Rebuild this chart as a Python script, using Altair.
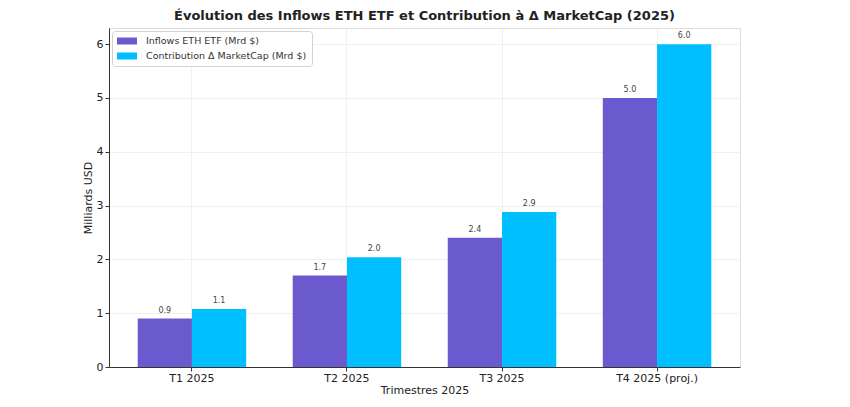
import altair as alt
import pandas as pd

quarters = ["T1 2025", "T2 2025", "T3 2025", "T4 2025 (proj.)"]
series_names = ["Inflows ETH ETF (Mrd $)", "Contribution Δ MarketCap (Mrd $)"]
inflows = [0.9, 1.7, 2.4, 5.0]
contribution = [1.08, 2.04, 2.88, 6.0]
colors = ["#6A5ACD", "#00BFFF"]

rows = []
for q, a, b in zip(quarters, inflows, contribution):
    rows.append({"quarter": q, "series": series_names[0], "value": a})
    rows.append({"quarter": q, "series": series_names[1], "value": b})
df = pd.DataFrame(rows)

FONT = "DejaVu Sans"

x_enc = alt.X(
    "quarter:N",
    sort=quarters,
    title="Trimestres 2025",
    scale=alt.Scale(paddingInner=0.3, paddingOuter=0.185),
    axis=alt.Axis(
        labelAngle=0, bandPosition=0.5, labelFontSize=11, titleFontSize=11,
        titleFontWeight="normal",
        labelColor="#222", titleColor="#222", domainColor="#333", tickColor="#333",
        grid=True, gridColor="#ececec", gridWidth=0.8, labelPadding=1, titlePadding=1,
        tickSize=4,
    ),
)
y_enc = alt.Y(
    "value:Q",
    title="Milliards USD",
    scale=alt.Scale(domain=[0, 6.3], nice=False),
    axis=alt.Axis(
        values=[0, 1, 2, 3, 4, 5, 6], format="d", labelFontSize=11, titleFontSize=11,
        titleFontWeight="normal",
        labelColor="#222", titleColor="#222", domainColor="#333", tickColor="#333",
        gridColor="#ececec", gridWidth=0.8, titlePadding=3, tickSize=4,
    ),
)
xo = alt.XOffset("series:N", sort=series_names, scale=alt.Scale(paddingInner=0, paddingOuter=0))

bars = alt.Chart(df).mark_bar().encode(
    x=x_enc,
    y=y_enc,
    xOffset=xo,
    color=alt.Color(
        "series:N",
        sort=series_names,
        scale=alt.Scale(domain=series_names, range=colors),
        legend=alt.Legend(
            title=None, orient="top-left", offset=3, fillColor="white",
            strokeColor="#d0d0d0", padding=5, cornerRadius=3,
            labelFontSize=9.5, labelColor="#333", labelFont=FONT, labelLimit=300,
            symbolType="M-2,-0.7L2,-0.7L2,0.7L-2,0.7Z", symbolSize=100,
            symbolOffset=5, labelOffset=14,
            symbolStrokeWidth=0, rowPadding=5,
        ),
    ),
)

labels = alt.Chart(df).mark_text(
    dy=-8, fontSize=8, color="#444", font=FONT
).encode(
    x=alt.X("quarter:N", sort=quarters),
    y="value:Q",
    xOffset=alt.XOffset("series:N", sort=series_names),
    text=alt.Text("value:Q", format=".1f"),
)

chart = (
    alt.layer(bars, labels)
    .properties(
        width=631,
        height=339,
        autosize=alt.AutoSizeParams(type="none"),
        padding={"left": 101, "top": 20, "right": 20, "bottom": 32},
        title=alt.Title(
            "Évolution des Inflows ETH ETF et Contribution à Δ MarketCap (2025)",
            fontSize=13, font=FONT, fontWeight="bold", color="#222", offset=5,
        ),
    )
    .configure_view(stroke=None)
    .configure(font=FONT)
)

chart.save("out.html", embed_options={"renderer": "svg", "actions": False})
